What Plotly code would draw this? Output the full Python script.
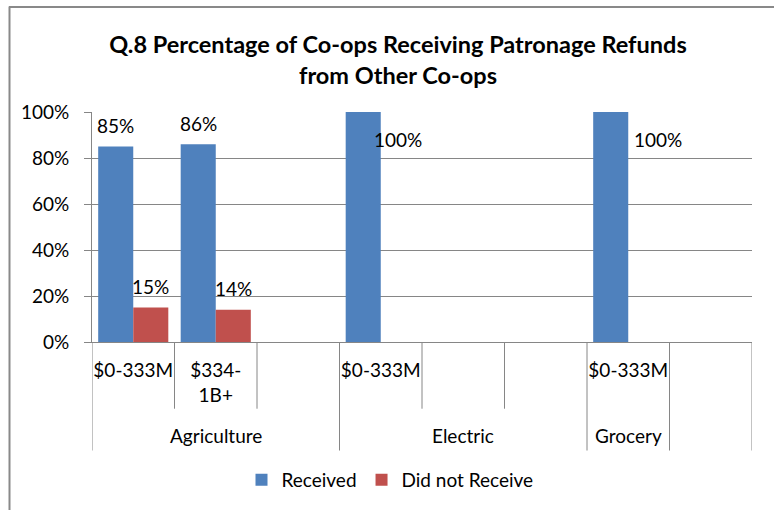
import plotly.graph_objects as go

# ---- data -------------------------------------------------------------
groups = ["Agriculture", "Agriculture", "Agriculture",
          "Electric", "Electric", "Electric",
          "Grocery", ""]
sizes = ["$0-333M", "$334-<br>1B+", "", "$0-333M", "", "", "$0-333M", ""]
received = [0.85, 0.86, None, 1.00, None, None, 1.00, None]
not_received = [0.15, 0.14, None, None, None, None, None, None]
series_names = ["Received", "Did not Receive"]
title_text = "Q.8 Percentage of Co-ops Receiving Patronage Refunds<br>from Other Co-ops"

# ---- layout constants -------------------------------------------------
W, H = 774, 510
ML, MR, MT, MB = 92, 22, 112, 167
PW, PH = W - ML - MR, H - MT - MB
BARGAP = 0.15
FONT = "Lato, Calibri, sans-serif"
GRAY = "#868686"
BLUE, RED = "#4F81BD", "#C0504D"


def px_x(px):
    return (px - ML) / PW


def px_y(py):
    return (H - MB - py) / PH


keys = [f"{g or 'blank'} {i}" for i, g in enumerate(groups)]
n = len(keys)

fig = go.Figure()
fig.add_trace(go.Bar(x=keys, y=received, name=series_names[0],
                     marker=dict(color=BLUE, line=dict(width=0))))
fig.add_trace(go.Bar(x=keys, y=not_received, name=series_names[1],
                     marker=dict(color=RED, line=dict(width=0))))

# ---- value labels -----------------------------------------------------
half_slot = (1 - BARGAP) / 4
label_nudge = {6: 0.15}  # extra sideways push for the Grocery 100% label
annotations = []
for s, vals in enumerate([received, not_received]):
    for i, v in enumerate(vals):
        if v is None:
            continue
        xc = i + (-half_slot if s == 0 else half_slot)
        if v >= 1:
            # no room above a full bar: place the label inside, to its right
            xc = i + half_slot + label_nudge.get(i, 0.0)
            ysh = -27
        else:
            ysh = 21
        annotations.append(dict(x=xc, y=v, xref="x", yref="y",
                                text=f"{v:.0%}", showarrow=False,
                                yanchor="middle", yshift=ysh,
                                font=dict(size=19, color="#000", family=FONT)))

# ---- group labels and category dividers -------------------------------
shapes = []
start = 0
for i in range(1, n + 1):
    if i == n or groups[i] != groups[start]:
        if groups[start]:
            annotations.append(dict(x=(start + i - 1) / 2, y=px_y(437),
                                    xref="x", yref="paper",
                                    text=groups[start], showarrow=False,
                                    yanchor="middle",
                                    font=dict(size=19, color="#000", family=FONT)))
        start = i

for b in range(n + 1):
    long_line = b == 0 or b == n or groups[b] != groups[b - 1]
    shapes.append(dict(type="line", xref="x", yref="paper",
                       x0=b - 0.5, x1=b - 0.5, y0=0,
                       y1=px_y(452 if long_line else 410),
                       line=dict(color=GRAY, width=1)))

# chart frame (top and left edges)
shapes.append(dict(type="line", xref="paper", yref="paper",
                   x0=px_x(9.5), x1=px_x(9.5), y0=px_y(6), y1=px_y(530),
                   line=dict(color="#898989", width=2)))
shapes.append(dict(type="line", xref="paper", yref="paper",
                   x0=px_x(9), x1=px_x(800), y0=px_y(6.5), y1=px_y(6.5),
                   line=dict(color="#898989", width=2)))

fig.update_layout(
    width=W, height=H,
    margin=dict(l=ML, r=MR, t=MT, b=MB),
    paper_bgcolor="white", plot_bgcolor="white",
    font=dict(family=FONT, size=19, color="#000"),
    title=dict(text=title_text, xref="container", yref="container",
               x=398 / W, y=1 - 53 / H, xanchor="center", yanchor="middle",
               font=dict(family=FONT, size=23.5, color="#000", weight="bold")),
    barmode="group", bargap=BARGAP, bargroupgap=0,
    showlegend=True,
    legend=dict(orientation="h", x=px_x(390), y=px_y(480),
                xanchor="center", yanchor="middle",
                font=dict(family=FONT, size=19, color="#000"),
                bgcolor="rgba(0,0,0,0)"),
    annotations=annotations,
    shapes=shapes,
)

fig.update_xaxes(type="category", range=[-0.5, n - 0.5],
                 tickmode="array", tickvals=keys, ticktext=sizes,
                 ticks="", showline=True, linecolor=GRAY, linewidth=1,
                 showgrid=False, ticklabelstandoff=11,
                 tickfont=dict(family=FONT, size=19, color="#000"))
fig.update_yaxes(range=[0, 1], dtick=0.2, tickformat=".0%",
                 showgrid=True, gridcolor=GRAY, gridwidth=1,
                 showline=True, linecolor=GRAY, linewidth=1,
                 ticks="outside", ticklen=7, tickcolor=GRAY,
                 ticklabelstandoff=11, zeroline=False,
                 tickfont=dict(family=FONT, size=19, color="#000"))

fig.write_html("out.html")
